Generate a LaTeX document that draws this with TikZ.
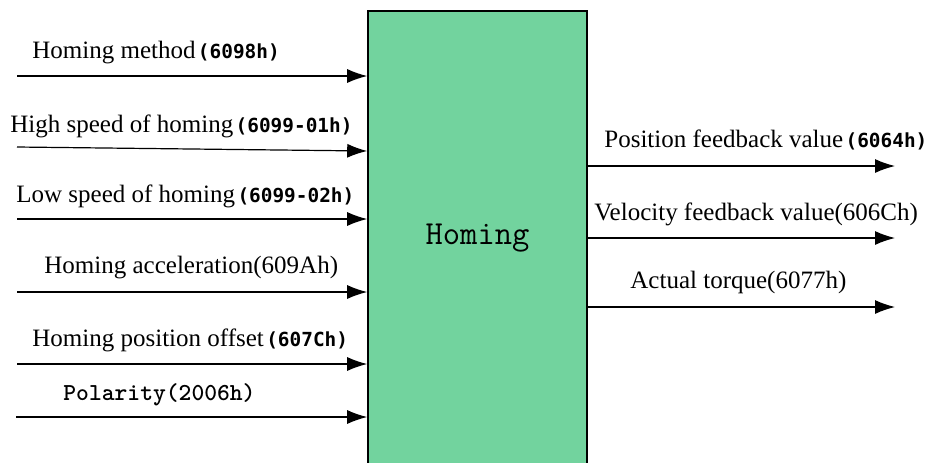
\documentclass[tikz,border=0pt]{standalone}
\usepackage{fontspec}
\setmainfont{Liberation Serif}
\newfontfamily\codefont{DejaVu Sans Mono}
\usetikzlibrary{arrows.meta}
\usepackage{xcolor}
\definecolor{homingfill}{HTML}{72D39E}
\newcommand{\objidx}[1]{\kern1.2pt{\codefont\bfseries\fontsize{9.7}{12}\selectfont(#1)}}

\begin{document}
\begin{tikzpicture}[x=0.5pt, y=-0.5pt, every node/.style={font=\fontsize{12.5}{14}\selectfont, inner sep=0pt},
  sig/.style={-{Latex[length=10pt,width=7pt]}, line width=0.6pt}]
\useasboundingbox (0,0) rectangle (930,462);
\clip (0,0) rectangle (930,462);
\node[draw, line width=0.8pt, fill=homingfill, minimum width=109.5pt, minimum height=234.5pt] (box) at (477.5,245.5) {};
\node[font=\ttfamily\fontsize{16.8}{18}\selectfont] (title) at (477.5,238) {Homing};
% inputs
\coordinate (in1) at (17,76);
\coordinate (in2) at (17,147);
\coordinate (in3) at (17,219);
\coordinate (in4) at (17,292);
\coordinate (in5) at (17,364);
\coordinate (in6) at (16,417);
\node[anchor=base west] (lbl1) at (32,58) {Homing method\objidx{6098h}};
\node[anchor=base west] (lbl2) at (10,132) {High speed of homing\objidx{6099-01h}};
\node[anchor=base west] (lbl3) at (16,202) {Low speed of homing\objidx{6099-02h}};
\node[anchor=base west] (lbl4) at (44,273) {Homing acceleration(609Ah)};
\node[anchor=base west] (lbl5) at (32,346) {Homing position offset\objidx{607Ch}};
\node[anchor=base west, font=\ttfamily\bfseries\fontsize{12.2}{13}\selectfont] (lbl6) at (63,400) {Polarity(2006h)};
\draw[sig] (in1) -- (in1 -| box.west);
\draw[sig] (in2) -- ([yshift=-2pt]in2 -| box.west);
\draw[sig] (in3) -- (in3 -| box.west);
\draw[sig] (in4) -- (in4 -| box.west);
\draw[sig] (in5) -- (in5 -| box.west);
\draw[sig] (in6) -- (in6 -| box.west);
% outputs
\coordinate (out1) at (895,166);
\coordinate (out2) at (895,238);
\coordinate (out3) at (895,307);
\node[anchor=base west] (olbl1) at (604,147) {Position feedback value\objidx{6064h}};
\node[anchor=base west] (olbl2) at (594,220) {Velocity feedback value(606Ch)};
\node[anchor=base west] (olbl3) at (630,288) {Actual torque(6077h)};
\draw[sig] (out1 -| box.east) -- (out1);
\draw[sig] (out2 -| box.east) -- (out2);
\draw[sig] (out3 -| box.east) -- (out3);
\end{tikzpicture}
\end{document}
